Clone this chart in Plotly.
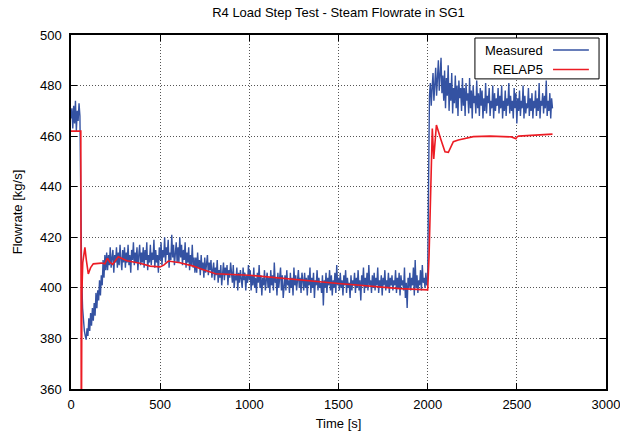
import plotly.graph_objects as go

# Measured steam flowrate, sampled every 5 s from 0 to 2700 s (one row = 100 s)
meas_dt = 5
meas_flow = [
    467, 471, 463, 472, 465, 474, 462, 470, 466, 473, 468, 430, 404, 392, 386, 383, 381, 379.5, 384, 381,
    388, 383, 390, 385, 392, 387, 394, 389, 398, 392, 399, 395, 403, 397, 405, 401, 411, 404, 413, 407,
    414, 407, 413, 409, 416, 408, 412, 415, 406, 413, 410, 416, 408, 414, 409, 417, 411, 407, 415, 410,
    416, 408, 414, 410, 417, 409, 413, 406, 415, 411, 418, 409, 414, 410, 416, 407, 413, 417, 409, 414,
    410, 416, 408, 415, 411, 418, 407, 413, 410, 417, 409, 414, 411, 419, 408, 415, 410, 413, 406, 416,
    411, 418, 409, 415, 412, 420, 410, 416, 413, 419, 408, 414, 411, 421, 412, 417, 409, 415, 418, 410,
    416, 410, 420, 412, 417, 409, 415, 411, 418, 408, 414, 410, 416, 407, 413, 409, 417, 408, 412, 406,
    412, 406, 414, 408, 411, 405, 413, 407, 410, 404, 412, 406, 409, 413, 405, 410, 407, 411, 404, 409,
    410, 403, 408, 405, 411, 402, 407, 404, 409, 401, 406, 410, 403, 408, 405, 409, 401, 407, 404, 410,
    406, 402, 409, 400, 405, 403, 408, 399, 406, 402, 407, 404, 400, 408, 403, 406, 399, 405, 402, 409,
    403, 407, 399, 405, 401, 408, 400, 404, 398, 406, 402, 409, 400, 405, 397, 404, 401, 407, 399, 403,
    406, 400, 404, 398, 407, 401, 405, 399, 410, 402, 404, 397, 406, 400, 403, 408, 399, 405, 396, 402,
    405, 399, 407, 401, 403, 398, 406, 400, 404, 397, 408, 401, 405, 399, 403, 407, 400, 404, 398, 406,
    403, 399, 406, 400, 404, 397, 405, 401, 408, 398, 404, 400, 406, 396, 403, 401, 407, 399, 404, 400,
    402, 398, 405, 393, 403, 400, 406, 398, 404, 401, 407, 399, 405, 397, 403, 400, 406, 398, 409, 401,
    404, 399, 406, 400, 403, 397, 405, 401, 407, 398, 404, 400, 402, 396, 405, 399, 403, 401, 406, 398,
    404, 400, 407, 399, 403, 395, 405, 401, 408, 398, 404, 400, 406, 399, 409, 401, 403, 398, 405, 400,
    406, 399, 404, 401, 408, 398, 403, 400, 405, 397, 404, 401, 407, 399, 403, 400, 406, 398, 404, 401,
    405, 399, 403, 401, 407, 398, 404, 400, 406, 397, 405, 401, 403, 399, 408, 396, 402, 392, 404, 400,
    406, 399, 404, 401, 408, 397, 411, 400, 405, 398, 403, 401, 407, 399, 409, 402, 404, 400, 406, 401,
    404, 452, 476, 481, 472, 479, 485, 474, 480, 487, 476, 483, 490, 478, 486, 491, 477, 484, 474, 486,
    471, 483, 476, 488, 470, 481, 474, 485, 469, 479, 473, 484, 471, 480, 468, 482, 475, 479, 470, 483,
    472, 479, 468, 481, 474, 477, 469, 483, 471, 478, 467, 480, 473, 476, 469, 482, 471, 477, 468, 479,
    472, 478, 467, 475, 470, 481, 469, 476, 473, 479, 468, 474, 471, 480, 467, 477, 470, 475, 472, 479,
    469, 476, 471, 480, 467, 474, 470, 478, 468, 475, 472, 481, 469, 476, 470, 474, 467, 479, 471, 477,
    465, 475, 470, 478, 468, 474, 471, 480, 467, 476, 469, 473, 471, 479, 468, 475, 470, 477, 467, 474,
    471, 478, 468, 475, 470, 481, 467, 474, 472, 477, 469, 476, 471, 482, 468, 474, 470, 477, 467, 475,
    471,
]
meas_time = [i * meas_dt for i in range(len(meas_flow))]

# RELAP5 calculation
relap_time = [0, 55, 58, 61, 66, 72, 78, 86, 97, 110, 125, 170, 190, 204, 220,
              234, 250, 265, 313, 387, 443, 499, 520, 546, 611, 686, 730, 761,
              790, 810, 1000, 1285, 1500, 1845, 1958, 2000, 2008, 2019, 2026,
              2034, 2049, 2075, 2097, 2116, 2144, 2172, 2209, 2256, 2350, 2470,
              2495, 2500, 2510, 2600, 2700]
relap_flow = [462, 462, 330, 398, 410, 414, 416, 411, 405.5, 408, 409.5, 409.8,
              409.5, 411.7, 410, 409.3, 411, 412.3, 410.7, 409.7, 408.6, 408.3,
              409, 410.6, 409.9, 408.6, 407.5, 406.8, 406, 405.6, 405.0, 403.0,
              401.7, 399.7, 399.3, 399.2, 413, 439, 463, 451, 464.4, 458.5,
              453.8, 453.6, 457.8, 458.5, 459.1, 459.8, 460.0, 459.7, 459.0,
              459.6, 460.0, 460.4, 460.8]

x_ticks = [0, 500, 1000, 1500, 2000, 2500, 3000]
y_ticks = [360, 380, 400, 420, 440, 460, 480, 500]

BLUE = "#3452a2"
RED = "#ec1c24"
FONT = "Liberation Sans, Arial, Helvetica, sans-serif"

fig = go.Figure()
fig.add_trace(go.Scatter(x=meas_time, y=meas_flow, mode="lines", name="Measured",
                         line=dict(color=BLUE, width=1.4)))
fig.add_trace(go.Scatter(x=relap_time, y=relap_flow, mode="lines", name="RELAP5",
                         line=dict(color=RED, width=1.6)))

axis_common = dict(
    showline=True, linecolor="black", linewidth=1.5, mirror="ticks",
    ticks="inside", ticklen=6, tickcolor="black", tickwidth=1,
    showgrid=True, gridcolor="#555555", griddash="1px,2px", gridwidth=1,
    zeroline=False, ticklabeloverflow="allow", automargin=False,
    tickfont=dict(family=FONT, size=13, color="black"),
)

fig.update_layout(
    width=620, height=432,
    margin=dict(l=71, r=14, t=35, b=43),
    paper_bgcolor="white", plot_bgcolor="white",
    showlegend=False,
    font=dict(family=FONT, size=13, color="black"),
    title=dict(text="R4 Load Step Test - Steam Flowrate in SG1",
               x=0.5, xref="paper", xanchor="center",
               y=1 - 12.5 / 432, yref="container", yanchor="middle",
               font=dict(family=FONT, size=13, color="black")),
    xaxis=dict(range=[0, 3000], tickvals=x_ticks, ticklabelstandoff=3,
               title=dict(text="Time [s]", standoff=8,
                          font=dict(family=FONT, size=13)),
               **axis_common),
    yaxis=dict(range=[360, 500], tickvals=y_ticks, ticklabelstandoff=5,
               title=dict(text="Flowrate [kg/s]", standoff=14,
                          font=dict(family=FONT, size=13)),
               **axis_common),
)

# Boxed key in the upper right corner: label on the left, line sample on the right
key_x0, key_x1 = 0.755, 0.987
key_y0, key_y1 = 0.876, 0.9915
fig.add_shape(type="rect", xref="paper", yref="paper",
              x0=key_x0, x1=key_x1, y0=key_y0, y1=key_y1,
              line=dict(color="black", width=1), fillcolor="white", layer="above")
for row_y, label, color in [(0.9576, "Measured", BLUE), (0.9025, "RELAP5", RED)]:
    fig.add_annotation(xref="paper", yref="paper", x=0.886, y=row_y,
                       xanchor="right", yanchor="middle", showarrow=False,
                       text=label, font=dict(family=FONT, size=13, color="black"))
    fig.add_shape(type="line", xref="paper", yref="paper",
                  x0=0.901, x1=0.968, y0=row_y, y1=row_y,
                  line=dict(color=color, width=1.6), layer="above")

fig.write_html("out.html")
